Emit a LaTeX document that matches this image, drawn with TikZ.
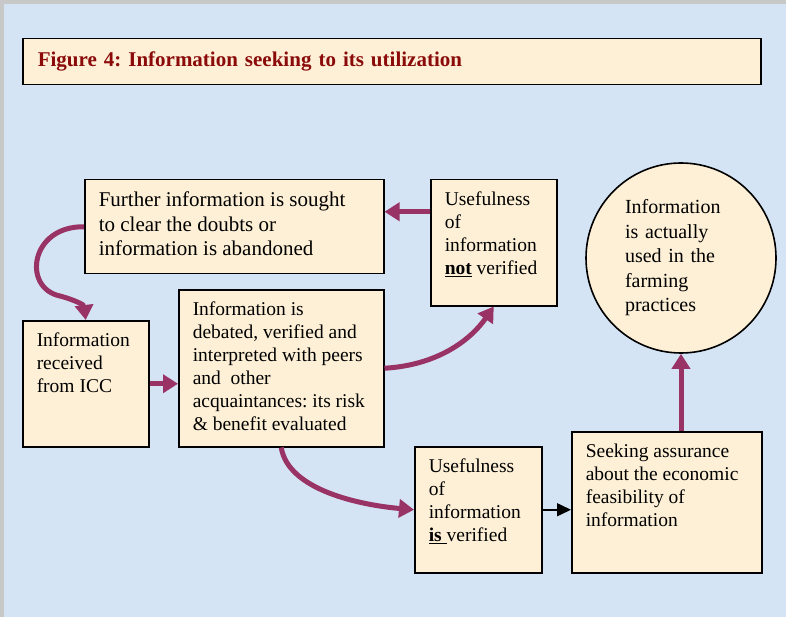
\documentclass[tikz,border=0pt]{standalone}
\usepackage{fontspec}
\setmainfont{Liberation Serif}
\frenchspacing
\usetikzlibrary{arrows.meta}
\definecolor{sky}{HTML}{D5E4F4}
\definecolor{frame}{HTML}{C8C8C8}
\definecolor{cream}{HTML}{FDF0D6}
\definecolor{plum}{HTML}{993366}
\definecolor{darkred}{HTML}{8B0A0A}
\tikzset{
  box/.style={draw=black, fill=cream, line width=1.5pt, anchor=north west, inner xsep=14pt, inner ysep=12pt},
  circbox/.style={circle, draw=black, fill=cream, line width=1.6pt, minimum size=190pt, inner sep=0pt, text width=112pt, align=left},
  flow/.style={draw=plum, line width=5pt, -{Triangle[length=15pt,width=18pt]}},
  link/.style={draw=black, line width=1.5pt, -{Triangle[length=14pt,width=13pt]}},
  txt/.style={font=\fontsize{19.5}{23}\selectfont},
  txtbig/.style={font=\fontsize{21}{24.5}\selectfont}
}
\newcommand{\boxtxt}[3]{\parbox[c][#2][t]{#1}{\raggedright #3}}

\begin{document}
\begin{tikzpicture}[x=1pt, y=-1pt]
  \useasboundingbox (0,0) rectangle (786,617);
  % background
  \fill[frame] (0,0) rectangle (786,617);
  \fill[sky] (4,4) rectangle (786,617);

  % title
  \node[box, minimum width=738pt, minimum height=46pt, inner xsep=15pt, inner ysep=4pt, text width=708pt, align=left,
        font=\fontsize{21}{24}\selectfont\bfseries, text=darkred] (title) at (22,38)
    {Figure 4: Information seeking to its utilization};

  % boxes
  \node[box, txtbig] (FI) at (84,179)
    {\boxtxt{271pt}{70pt}{Further information is sought\\ to clear the doubts or\\ information is abandoned}};
  \node[box, txt] (UN) at (430,179)
    {\boxtxt{98pt}{102pt}{Usefulness\\ of\\ information\\ \underline{\textbf{not}} verified}};
  \node[circbox, font=\fontsize{20}{24.5}\selectfont] (C) at (681,258)
    {Information\\ is actually\\ used in the\\ farming\\ practices};
  \node[box, txt] (IR) at (22,320)
    {\boxtxt{98pt}{102pt}{Information\\ received\\ from ICC}};
  \node[box, txt] (DB) at (178,289)
    {\boxtxt{177pt}{133pt}{Information is\\ debated, verified and\\ interpreted with peers\\ and\ \ other\\ acquaintances: its risk\\ \& benefit evaluated}};
  \node[box, txt] (UI) at (414,446)
    {\boxtxt{99pt}{102pt}{Usefulness\\ of\\ information\\ \underline{\textbf{is}\ }verified}};
  \node[box, txt] (SA) at (571,431)
    {\boxtxt{162pt}{117pt}{Seeking assurance\\ about the economic\\ feasibility of\\ information}};

  % connectors
  \draw[flow] ([yshift=31pt]UN.west) -- ([yshift=31pt]UN.west -| FI.east);
  \draw[flow] (FI.west) .. controls (30,226) and (22,288) .. (60,296)
              .. controls (75,300) and (84,305) .. (IR.north);
  \draw[flow] (IR.east) -- (IR.east -| DB.west);
  \draw[flow] (DB.east) .. controls (440,365) and (472,338) .. (UN.south);
  \draw[flow] (DB.south) .. controls (288,490) and (360,505) .. (UI.west);
  \draw[link] (UI.east) -- (UI.east -| SA.west);
  \draw[flow] (C.south |- SA.north) -- (C.south);
\end{tikzpicture}
\end{document}
